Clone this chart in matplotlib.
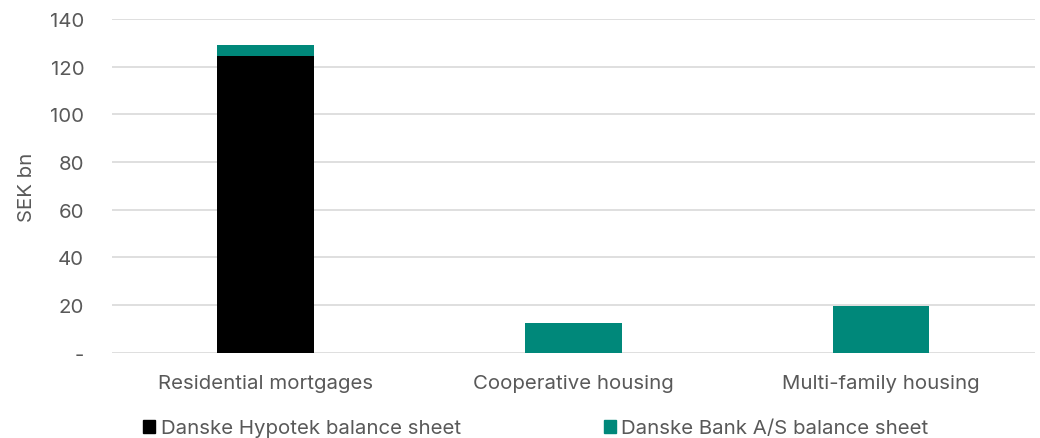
import numpy as np
import matplotlib.pyplot as plt
from matplotlib.patches import Patch

categories = ["Residential mortgages", "Cooperative housing", "Multi-family housing"]
hypotek = [124.4, 0, 0]
bank = [4.7, 12.5, 19.6]
series_names = ["Danske Hypotek balance sheet", "Danske Bank A/S balance sheet"]

black = "#000000"
teal = "#00887A"
grey = "#595959"

plt.rcParams['font.family'] = ['Inter', 'DejaVu Sans']
fs = 14.7

fig = plt.figure(figsize=(10.4, 4.39), dpi=100)
ax = fig.add_axes([0.1077, 0.194, 0.8873, 0.7604])

x = np.arange(len(categories))
w = 0.315
ax.bar(x, hypotek, w, color=black, zorder=3)
ax.bar(x, bank, w, bottom=hypotek, color=teal, zorder=3)

ax.set_xlim(-0.5, 2.5)
ax.set_ylim(0, 140)
ax.set_yticks(range(0, 141, 20))
ax.set_yticklabels(["-"] + [str(v) for v in range(20, 141, 20)])
ax.set_xticks(x)
ax.set_xticklabels(categories)
ax.grid(axis='y', color='#d9d9d9', linewidth=1.2, zorder=0)
for s in ax.spines.values():
    s.set_visible(False)
ax.tick_params(axis='both', length=0, colors=grey, labelsize=fs)
ax.tick_params(axis='y', pad=20)
ax.tick_params(axis='x', pad=15)
ax.set_ylabel("SEK bn", color=grey, fontsize=fs, labelpad=10)

handles = [Patch(color=black), Patch(color=teal)]
fig.legend(handles, series_names, loc='center left', bbox_to_anchor=(0.12, 0.022),
           ncol=2, frameon=False, handlelength=0.6, handleheight=0.6,
           handletextpad=0.25, columnspacing=7.0, labelcolor=grey, fontsize=fs)

fig.savefig("out.png", dpi=100)
